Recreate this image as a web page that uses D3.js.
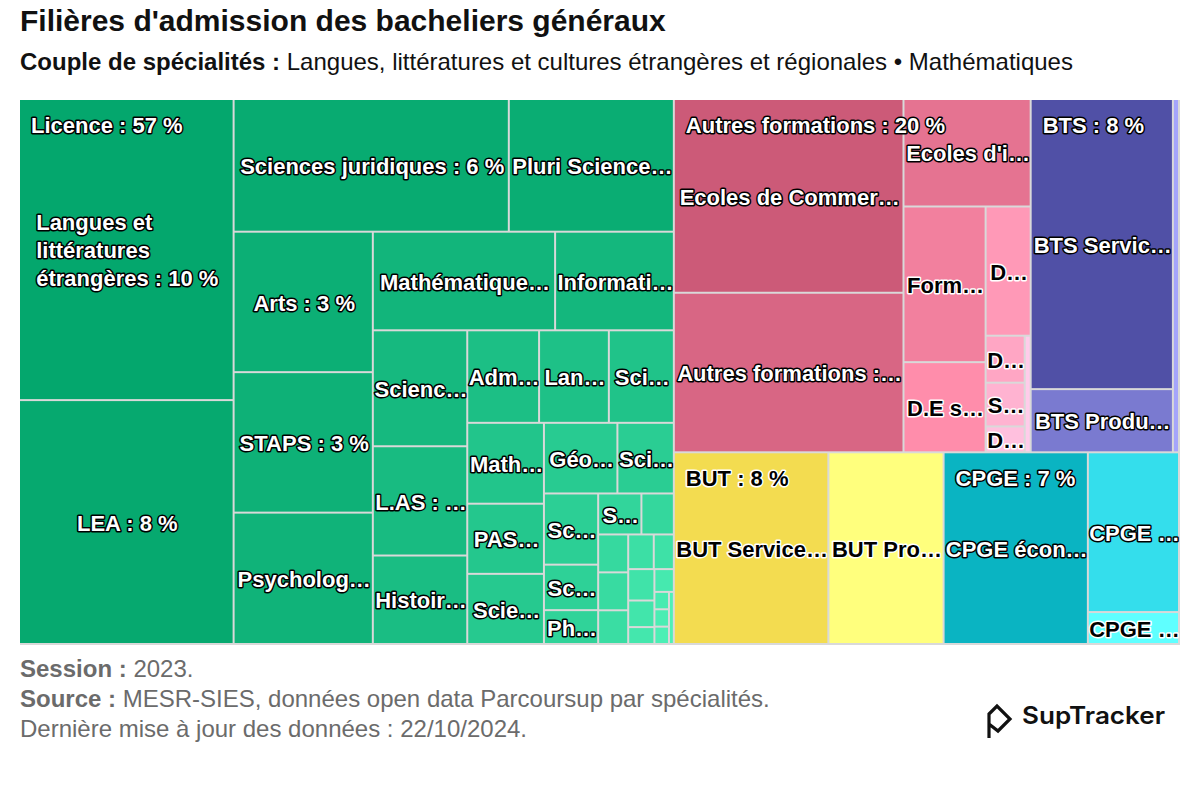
<!DOCTYPE html>
<html><head><meta charset="utf-8">
<script src="https://cdn.jsdelivr.net/npm/d3@7"></script>
<style>
body{margin:0;background:#fff}
svg{display:block}
text{font-family:"Liberation Sans",Arial,Helvetica,sans-serif}
</style>
</head><body>
<svg id="chart" width="1200" height="800"></svg>
<script>
// ---------------- DATA ----------------
const groupNames = ["Licence", "Autres formations", "BTS", "BUT", "CPGE"];
const groupShares = [57, 20, 8, 8, 7];

const licenceNames = [
  "Langues et\nlittératures\nétrangères", "LEA", "Sciences juridiques",
  "Pluri Sciences humaines et sociales", "Arts", "STAPS", "Psychologie",
  "Mathématiques", "Informatique", "Sciences économiques", "L.AS", "Histoire",
  "Administration économique et sociale", "Langues et littératures françaises",
  "Sciences de l'éducation", "Mathématiques et informatique appliquées aux SHS",
  "PASS", "Sciences de la vie", "Géographie et aménagement", "Sciences politiques",
  "Sciences pour l'ingénieur", "Sciences sociales", "Philosophie", "Sociologie",
  "Lettres", "Chimie", "Physique", "Sciences de la Terre", "Information-communication",
  "Sciences du langage", "Musicologie", "Arts plastiques", "Archéologie",
  "Biologie", "Electronique", "Mécanique", "Physique-chimie", "Théologie"
];
const licenceValues = [
  10.21, 8.27, 5.77, 3.46, 3.09, 3.09, 2.89, 2.84, 1.85, 1.73, 1.63, 1.32,
  1.05, 1.02, 0.95, 0.98, 0.85, 0.85, 0.82, 0.63, 0.61, 0.39, 0.29, 0.28,
  0.21, 0.18, 0.18, 0.16, 0.14, 0.11, 0.13, 0.11, 0.07, 0.07, 0.04, 0.04, 0.04, 0.04
];

const autresNames = [
  "Ecoles de Commerce", "Autres formations", "Ecoles d'ingénieurs",
  "Formations artistiques", "D.E secteur sanitaire", "DN MADE", "DCG",
  "Sciences Po", "DEUST", "Mentions complémentaires"
];
const autresValues = [7.03, 5.79, 2.16, 2.02, 1.17, 0.92, 0.29, 0.27, 0.16, 0.11];

const btsNames = ["BTS Services", "BTS Production", "BTS Agricole"];
const btsValues = [6.52, 1.42, 0.34];

const butNames = ["BUT Services", "BUT Production"];
const butValues = [4.68, 3.49];

const cpgeNames = ["CPGE économiques et commerciales", "CPGE littéraires", "CPGE scientifiques"];
const cpgeValues = [4.37, 2.30, 0.46];

// ---------------- STYLE ----------------
const baseColors = ["#04a76d", "#cc5a78", "#5050a6", "#f3dc50", "#0ab4c2"];
const variationTo = [0.3, 0.5, 0.5, 0.36, 0.5];

const childNames = [licenceNames, autresNames, btsNames, butNames, cpgeNames];
const childValues = [licenceValues, autresValues, btsValues, butValues, cpgeValues];

const rootData = {
  name: "root",
  children: groupNames.map((g, i) => ({
    name: g, gi: i, share: groupShares[i],
    children: childNames[i].map((n, j) => ({ name: n, value: childValues[i][j], gi: i, ci: j }))
  }))
};

// Highcharts-like "squarified" (low aspect ratio, alternating direction) tiling
function hcSquarified(parent, x0, y0, x1, y1) {
  const W = x1 - x0, H = y1 - y0;
  const kids = parent.children;
  const total = parent.value;
  let dir = 0;
  let plotX = x0, plotY = y0;
  let gWidth = W, gHeight = H;
  let elArr = [], elNodes = [], sum = 0, nW = 0, lW = 0, nH = 0, lH = 0, lR = NaN, nR = NaN;
  function addElement(area, node) {
    const last = elArr.length ? elArr[elArr.length - 1] : NaN;
    sum += area;
    if (dir === 0) {
      lW = nW; const a = last / lW; lR = Math.max(lW / a, a / lW);
      nW = sum / gHeight; const b = last / nW; nR = Math.max(nW / b, b / nW);
    } else {
      lH = nH; const a = last / lH; lR = Math.max(a / lH, lH / a);
      nH = sum / gWidth; const b = last / nH; nR = Math.max(b / nH, nH / b);
    }
    elArr.push(area); elNodes.push(node);
  }
  function calcPoints(isLast) {
    let w = lW, h = lH;
    if (isLast) { w = nW; h = nH; }
    const end = elArr.length - 1;
    let keep, keepNode;
    if (!isLast) { keep = elArr[end]; keepNode = elNodes[end]; }
    elArr.forEach((p, i) => {
      if (isLast || i < end) {
        let pw, ph;
        if (dir === 0) { pw = w; ph = p / pw; } else { ph = h; pw = p / ph; }
        const nd = elNodes[i];
        nd.x0 = plotX; nd.y0 = plotY; nd.x1 = plotX + pw; nd.y1 = plotY + ph;
        if (dir === 0) plotY += ph; else plotX += pw;
      }
    });
    nW = 0; lW = 0; elArr = []; elNodes = []; sum = 0;
    if (dir === 0) gWidth -= w; else gHeight -= h;
    plotY = y0 + (H - gHeight);
    plotX = x0 + (W - gWidth);
    dir = 1 - dir;
    if (!isLast) addElement(keep, keepNode);
  }
  kids.forEach((child, i) => {
    addElement(W * H * (child.value / total), child);
    if (nR > lR) calcPoints(false);
    if (i === kids.length - 1) calcPoints(true);
  });
}

function brighten(c, alpha) {
  const r = d3.rgb(c), k = Math.floor(alpha * 255);
  return d3.rgb(Math.min(255, r.r + k), Math.min(255, r.g + k), Math.min(255, r.b + k)).formatHex();
}
function contrast(c) {
  const r = d3.rgb(c);
  return (r.r + r.g * 1.2 + r.b * 0.5) > 1.8 * 255 ? "#000000" : "#FFFFFF";
}

// ---------------- CHART ----------------
const svg = d3.select("#chart");
const X0 = 20, Y0 = 100, W = 1160, H = 545;

svg.append("text").attr("x", 20).attr("y", 31)
  .style("font-size", "30px").style("font-weight", "bold").attr("fill", "#111")
  .text("Filières d'admission des bacheliers généraux");
const sub = svg.append("text").attr("x", 20).attr("y", 70).style("font-size", "24px").attr("fill", "#111");
sub.append("tspan").style("font-weight", "bold").text("Couple de spécialités : ");
sub.append("tspan").text("Langues, littératures et cultures étrangères et régionales • Mathématiques");

const root = d3.hierarchy(rootData).sum(d => d.value || 0);
const total = root.value;
d3.treemap().size([W, H]).tile(hcSquarified)(root);

const g = svg.append("g").attr("transform", `translate(${X0},${Y0})`);
g.append("rect").attr("width", W).attr("height", H).attr("fill", "#d9d9d9");

const leaves = root.leaves();
leaves.forEach(d => {
  const gi = d.data.gi, n = d.parent.children.length;
  d.color = brighten(baseColors[gi], variationTo[gi] * d.data.ci / n);
});

g.selectAll("rect.cell").data(leaves).join("rect").attr("class", "cell")
  .attr("x", d => d.x0).attr("y", d => d.y0)
  .attr("width", d => Math.max(0, d.x1 - d.x0 - 2))
  .attr("height", d => Math.max(0, d.y1 - d.y0 - 2))
  .attr("fill", d => d.color);

function styleLabel(t, fill) {
  t.style("font-size", "22px").style("font-weight", "bold")
    .attr("fill", fill).attr("stroke", fill === "#000000" ? "#FFFFFF" : "#000000")
    .attr("stroke-width", 3).attr("stroke-linejoin", "round")
    .style("paint-order", "stroke");
}

// Leaf labels
leaves.forEach(d => {
  const w = d.x1 - d.x0, h = d.y1 - d.y0;
  const cx = d.x0 + w / 2, cy = d.y0 + h / 2;
  const pct = Math.round(d.value / total * 100);
  const fill = contrast(d.color);
  const lines = d.data.name.split("\n");
  lines[lines.length - 1] += " : " + pct + " %";
  const t = g.append("text");
  styleLabel(t, fill);
  if (lines.length > 1) {
    const lh = 28;
    const spans = lines.map((ln, i) => t.append("tspan").attr("x", 0)
      .attr("y", cy + (i - (lines.length - 1) / 2) * lh).attr("dy", "0.35em").text(ln));
    const bw = d3.max(spans, s => s.node().getComputedTextLength());
    spans.forEach(s => s.attr("x", cx - bw / 2));
    return;
  }
  t.attr("x", cx).attr("y", cy).attr("dy", "0.35em").attr("text-anchor", "middle");
  const full = lines[0];
  const avail = w - 0.5;
  t.text(full);
  if (t.node().getComputedTextLength() <= avail) return;
  for (let k = full.length - 1; k >= 1; k--) {
    t.text(full.slice(0, k) + "…");
    if (t.node().getComputedTextLength() <= avail) return;
  }
  t.remove();
});

// Group labels
root.children.forEach(p => {
  const t = g.append("text").attr("x", p.x0 + 11).attr("y", p.y0 + 33);
  styleLabel(t, contrast(baseColors[p.data.gi]));
  t.text(p.data.name + " : " + p.data.share + " %");
});

// Footer
const foot = [
  [["Session : ", true], ["2023.", false]],
  [["Source : ", true], ["MESR-SIES, données open data Parcoursup par spécialités.", false]],
  [["Dernière mise à jour des données : 22/10/2024.", false]]
];
foot.forEach((parts, i) => {
  const t = svg.append("text").attr("x", 20).attr("y", 677 + i * 30).style("font-size", "24px").attr("fill", "#6b6b6b");
  parts.forEach(([s, b]) => t.append("tspan").style("font-weight", b ? "bold" : "normal").text(s));
});

// Logo
svg.append("path").attr("d", "M989,738 V714 L997,706 L1010,719 L998,731 L989,724")
  .attr("fill", "none").attr("stroke", "#111").attr("stroke-width", 3.2).attr("stroke-linejoin", "miter");
svg.append("text").attr("x", 1022).attr("y", 724).style("font-family", "Inter, 'Liberation Sans', sans-serif")
  .style("font-size", "24px").style("font-weight", 600).attr("fill", "#111")
  .attr("textLength", 143).attr("lengthAdjust", "spacingAndGlyphs").text("SupTracker");
</script>
</body></html>
